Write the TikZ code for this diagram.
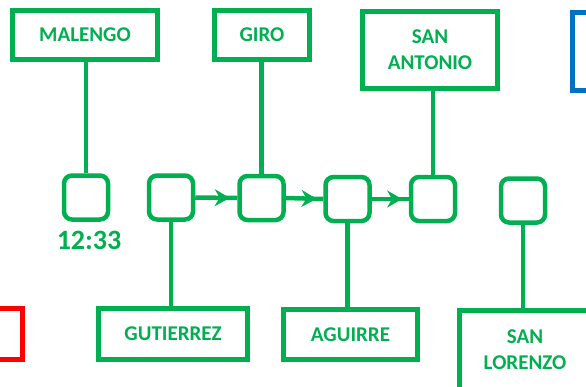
\documentclass[tikz,border=0pt]{standalone}
\usepackage{fontspec}
\setmainfont{Carlito}
\usetikzlibrary{arrows.meta,decorations.markings}
\definecolor{gr}{HTML}{00B050}
\definecolor{rd}{HTML}{FF0000}
\definecolor{bl}{HTML}{0070C0}
\begin{document}
\begin{tikzpicture}[x=1pt,y=-1pt,
  lab/.style={draw=gr,line width=5pt,fill=white,text=gr,font=\bfseries\fontsize{21}{26}\selectfont,align=center,inner sep=0pt},
  sq/.style={draw=gr,line width=4.5pt,rounded corners=8pt,minimum width=44pt,minimum height=44pt,inner sep=0pt},
  con/.style={draw=gr,line width=4.5pt},
  arr/.style={con,postaction={decorate},decoration={markings,mark=at position 0.82 with {\arrow{Stealth[length=15pt,width=17pt,inset=5pt]}}}}]
\useasboundingbox (0,0) rectangle (586,386);
\begin{scope}
\clip (0,0) rectangle (586,386);
% top labels
\node[lab,minimum width=145pt,minimum height=49pt] (malengo) at (85,35) {MALENGO};
\node[lab,minimum width=95pt,minimum height=49pt] (giro) at (262,35) {GIRO};
\node[lab,minimum width=135pt,minimum height=77pt] (antonio) at (430,50) {SAN\\ANTONIO};
\node[draw=bl,line width=5pt,minimum width=80pt,minimum height=78pt,inner sep=0pt] (blue) at (612.5,51.5) {};
% squares
\node[sq] (s1) at (86,197.5) {};
\node[sq] (s2) at (171,197.5) {};
\node[sq] (s3) at (261.5,198) {};
\node[sq] (s4) at (347.5,199) {};
\node[sq] (s5) at (433,199) {};
\node[sq] (s6) at (523,200.5) {};
\node[text=gr,font=\bfseries\fontsize{28}{32}\selectfont,inner sep=0pt] (time) at (89,240) {12:33};
% bottom labels
\node[lab,minimum width=149pt,minimum height=51pt] (gut) at (173,334) {GUTIERREZ};
\node[lab,minimum width=134pt,minimum height=50pt] (agu) at (350.5,334.5) {AGUIRRE};
\node[lab,minimum width=131pt,minimum height=79pt] (lor) at (525,350) {SAN\\LORENZO};
\node[draw=rd,line width=5pt,minimum width=80pt,minimum height=51pt,inner sep=0pt] (red) at (-17.5,334) {};
% connectors
\draw[con] (s1.north) -- (s1.north |- malengo.south);
\draw[con] (s3.north) -- (s3.north |- giro.south);
\draw[con] (s5.north) -- (s5.north |- antonio.south);
\draw[con] (s2.south) -- (s2.south |- gut.north);
\draw[con] (s4.south) -- (s4.south |- agu.north);
\draw[con] (s6.south) -- (s6.south |- lor.north);
\draw[arr] (s2.east) -- (s3.west);
\draw[arr] (s3.east) -- (s4.west);
\draw[arr] (s4.east) -- (s5.west);
\end{scope}
\end{tikzpicture}
\end{document}
